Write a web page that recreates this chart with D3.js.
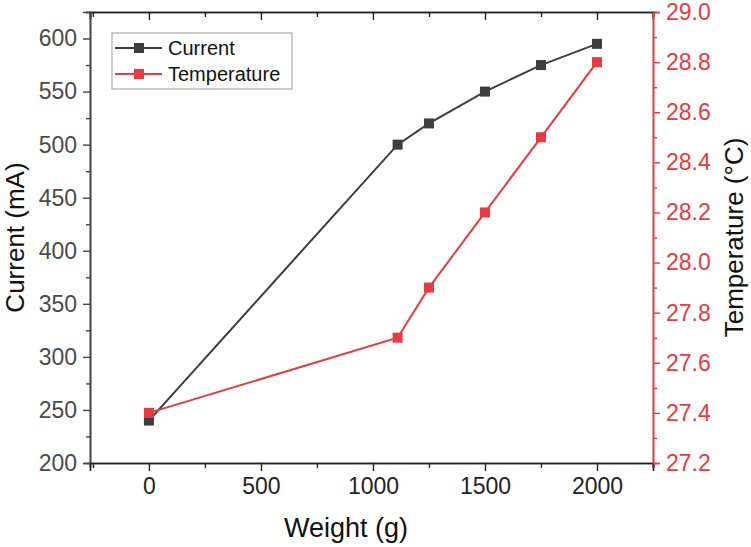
<!DOCTYPE html>
<html>
<head>
<meta charset="utf-8">
<script src="https://cdn.jsdelivr.net/npm/d3@7"></script>
<style>
  html, body { margin: 0; padding: 0; background: #fff; }
  svg text { font-family: "Liberation Sans", Arial, sans-serif; }
</style>
</head>
<body>
<div id="chart"></div>
<script>
// data
var weights = [0, 1110, 1250, 1500, 1750, 2000];
var currentValues = [240, 500, 520, 550, 575, 595];
var temperatureValues = [27.4, 27.7, 27.9, 28.2, 28.5, 28.8];
var seriesNames = ["Current", "Temperature"];
var xTicks = [0, 500, 1000, 1500, 2000];
var xMinorTicks = [-250, 250, 750, 1250, 1750, 2250];
var currentTicks = [200, 250, 300, 350, 400, 450, 500, 550, 600];
var currentMinorTicks = [225, 275, 325, 375, 425, 475, 525, 575, 625];
var tempTicks = [27.2, 27.4, 27.6, 27.8, 28.0, 28.2, 28.4, 28.6, 28.8, 29.0];
var tempMinorTicks = [27.3, 27.5, 27.7, 27.9, 28.1, 28.3, 28.5, 28.7, 28.9];

var
    width = 751,
    height = 547,
    margin = { top: 12, right: 98, bottom: 84, left: 90 },
    innerWidth = width - margin.left - margin.right,
    innerHeight = height - margin.top - margin.bottom,
    black = "#3d3d3d",
    red = "#ea3a40";

var svg = d3.select("#chart").append("svg")
    .attr("width", width)
    .attr("height", height);

var g = svg.append("g")
    .attr("transform", "translate(" + margin.left + "," + margin.top + ")");

var xScale = d3.scaleLinear().domain([-263, 2250]).range([0, innerWidth]);
var yLeft = d3.scaleLinear().domain([200, 625]).range([innerHeight, 0]);
var yRight = d3.scaleLinear().domain([27.2, 29.0]).range([innerHeight, 0]);

function styleAxis(sel, color, textColor) {
    sel.attr("font-size", 23).attr("font-family", null);
    sel.select(".domain").attr("stroke", color).attr("stroke-width", 1.6);
    sel.selectAll(".tick line").attr("stroke", color).attr("stroke-width", 1.4);
    sel.selectAll(".tick text").attr("fill", textColor);
}

// minor ticks only (no labels)
function minor(sel, color) {
    sel.select(".domain").attr("stroke", color).attr("stroke-width", 1.6);
    sel.selectAll(".tick line").attr("stroke", color).attr("stroke-width", 1.4);
    sel.selectAll(".tick text").remove();
}

g.append("g")
    .attr("transform", "translate(0," + innerHeight + ")")
    .call(d3.axisBottom(xScale).tickValues(xMinorTicks).tickSize(5))
    .call(minor, "#222");
g.append("g")
    .call(d3.axisTop(xScale).tickValues(xMinorTicks).tickSize(-5))
    .call(minor, "#222");
g.append("g")
    .call(d3.axisLeft(yLeft).tickValues(currentMinorTicks).tickSize(4))
    .call(minor, "#444");
g.append("g")
    .attr("transform", "translate(" + innerWidth + ",0)")
    .call(d3.axisRight(yRight).tickValues(tempMinorTicks).tickSize(4))
    .call(minor, red);

g.append("g")
    .attr("transform", "translate(0," + innerHeight + ")")
    .call(d3.axisBottom(xScale).tickValues(xTicks).tickSize(8).tickPadding(7).tickFormat(d3.format("d")))
    .call(styleAxis, "#222", "#222");

g.append("g")
    .call(d3.axisTop(xScale).tickValues(xTicks).tickSize(-8))
    .call(minor, "#222");

g.append("g")
    .call(d3.axisLeft(yLeft).tickValues(currentTicks).tickSize(7).tickPadding(6).tickFormat(d3.format("d")))
    .call(styleAxis, "#444", "#4a4a4a");

g.append("g")
    .attr("transform", "translate(" + innerWidth + ",0)")
    .call(d3.axisRight(yRight).tickValues(tempTicks).tickSize(7).tickPadding(6).tickFormat(d3.format(".1f")))
    .call(styleAxis, red, red);

// axis titles
svg.append("text")
    .attr("x", margin.left + xScale(1000) - 27)
    .attr("y", 537)
    .attr("text-anchor", "middle")
    .attr("font-size", 27)
    .attr("fill", "#111")
    .text("Weight (g)");

svg.append("text")
    .attr("transform", "translate(24," + (margin.top + innerHeight / 2) + ") rotate(-90)")
    .attr("text-anchor", "middle")
    .attr("font-size", 26)
    .attr("fill", "#111")
    .text("Current (mA)");

svg.append("text")
    .attr("transform", "translate(743," + (margin.top + innerHeight / 2) + ") rotate(-90)")
    .attr("text-anchor", "middle")
    .attr("font-size", 26)
    .attr("fill", "#111")
    .text("Temperature (°C)");

// series
var currentData = weights.map(function (w, i) { return [w, currentValues[i]]; });
var tempData = weights.map(function (w, i) { return [w, temperatureValues[i]]; });

function drawSeries(data, yScale, color) {
    var line = d3.line()
        .x(function (d) { return xScale(d[0]); })
        .y(function (d) { return yScale(d[1]); });
    g.append("path")
        .datum(data)
        .attr("fill", "none")
        .attr("stroke", color)
        .attr("stroke-width", 2)
        .attr("d", line);
    g.selectAll(null)
        .data(data)
        .enter().append("rect")
        .attr("x", function (d) { return xScale(d[0]) - 5; })
        .attr("y", function (d) { return yScale(d[1]) - 5; })
        .attr("width", 10)
        .attr("height", 10)
        .attr("fill", color);
}

drawSeries(currentData, yLeft, black);
drawSeries(tempData, yRight, red);

// legend
var legend = svg.append("g").attr("transform", "translate(112,33)");
legend.append("rect")
    .attr("width", 180)
    .attr("height", 56)
    .attr("fill", "#fff")
    .attr("stroke", "#999")
    .attr("stroke-width", 1);

var legendColors = [black, red];
seriesNames.forEach(function (name, i) {
    var cy = 15 + i * 26;
    legend.append("line")
        .attr("x1", 3).attr("x2", 50)
        .attr("y1", cy).attr("y2", cy)
        .attr("stroke", legendColors[i])
        .attr("stroke-width", 2);
    legend.append("rect")
        .attr("x", 22).attr("y", cy - 5)
        .attr("width", 10).attr("height", 10)
        .attr("fill", legendColors[i]);
    legend.append("text")
        .attr("x", 56)
        .attr("y", cy + 7)
        .attr("font-size", 20)
        .attr("fill", "#111")
        .text(name);
});
</script>
</body>
</html>
